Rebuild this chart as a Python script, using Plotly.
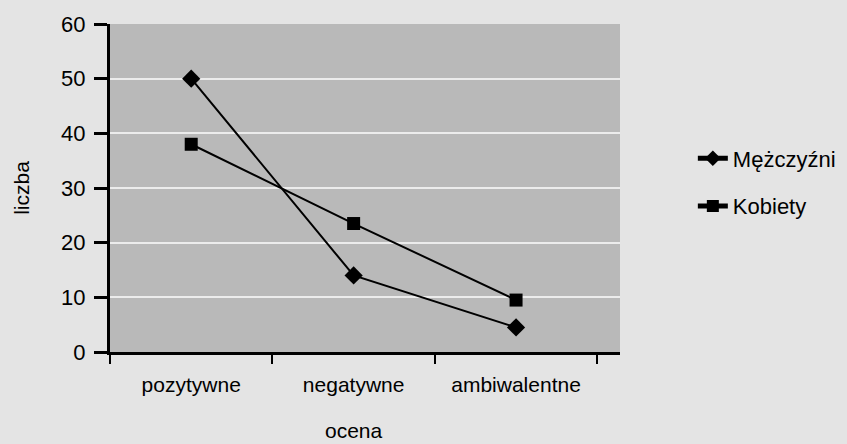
import plotly.graph_objects as go

categories = ["pozytywne", "negatywne", "ambiwalentne"]
mezczyzni = [50, 14, 4.5]
kobiety = [38, 23.5, 9.5]
y_ticks = [0, 10, 20, 30, 40, 50, 60]

font = dict(family="Liberation Sans, Arial", color="black")

fig = go.Figure()
fig.add_trace(go.Scatter(x=categories, y=mezczyzni, name="Mężczyźni", mode="lines+markers",
                         legendgroup="m",
                         line=dict(color="black", width=2),
                         marker=dict(symbol="diamond", size=14, color="black")))
fig.add_trace(go.Scatter(x=categories, y=kobiety, name="Kobiety", mode="lines+markers",
                         legendgroup="k",
                         line=dict(color="black", width=2),
                         marker=dict(symbol="square", size=13, color="black")))

fig.update_layout(
    width=847, height=444,
    margin=dict(l=110, r=227, t=18, b=92),
    paper_bgcolor="#e4e4e4",
    plot_bgcolor="#b9b9b9",
    font=dict(size=21, **font),
    showlegend=True,
    legend=dict(xref="container", yref="container", x=0.818, y=0.589,
                xanchor="left", yanchor="middle",
                bgcolor="rgba(0,0,0,0)", font=dict(size=22, **font),
                traceorder="grouped", tracegroupgap=16, itemsizing="constant"),
    xaxis=dict(type="category", range=[-0.5, 2.64], tickson="boundaries",
               ticks="outside", ticklen=9, tickwidth=2, tickcolor="black",
               showline=True, linecolor="black", linewidth=3, showgrid=False,
               tickfont=dict(size=21, **font), ticklabelstandoff=12,
               automargin=False),
    yaxis=dict(range=[0, 60], tickvals=y_ticks, ticks="outside", ticklen=13,
               tickwidth=3, tickcolor="black", showline=True, linecolor="black",
               linewidth=3, showgrid=True, gridcolor="#ececec", gridwidth=1.5,
               zeroline=False, tickfont=dict(size=22, **font), ticklabelstandoff=4,
               title=dict(text="liczba", font=dict(size=21, **font), standoff=26)),
    annotations=[dict(text="ocena", xref="paper", yref="paper",
                      x=(354 - 110) / 510, y=-(432 - 352) / 334,
                      xanchor="center", yanchor="middle", showarrow=False,
                      font=dict(size=21, **font))],
)

fig.write_html("out.html", config={"displayModeBar": False},
               post_script="document.body.style.margin='0';")
